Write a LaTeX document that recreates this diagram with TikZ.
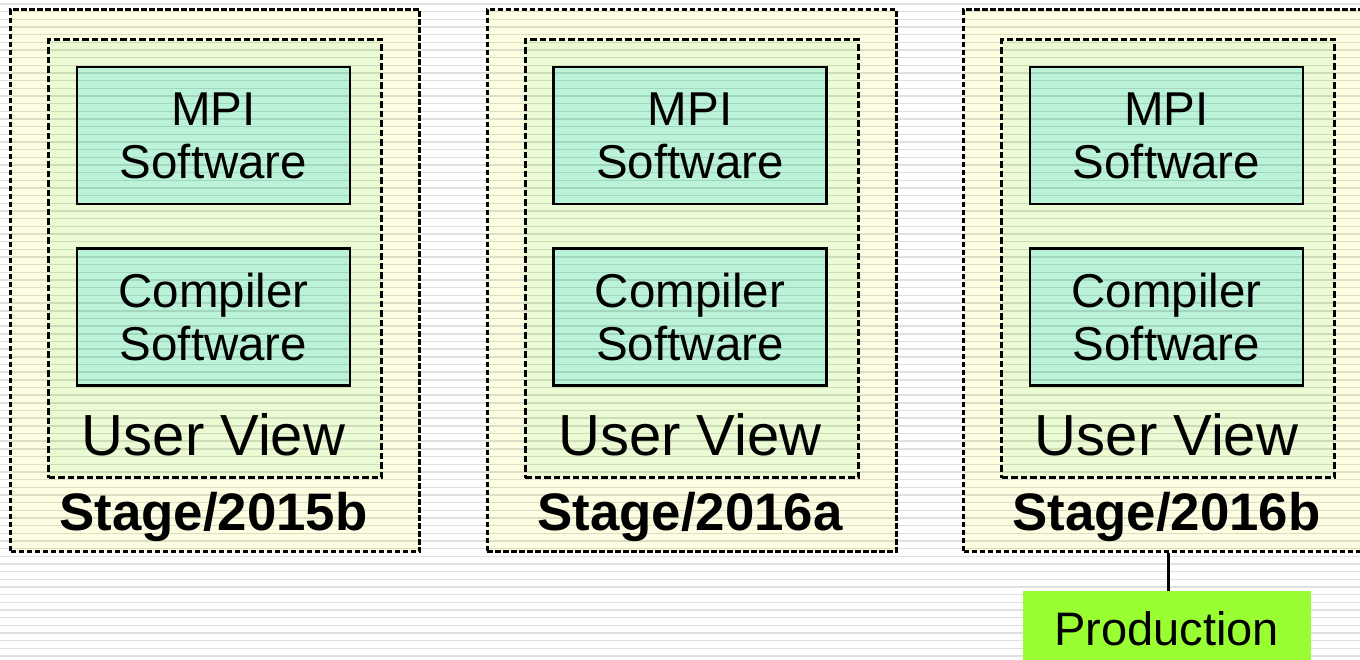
\documentclass[tikz,border=0pt]{standalone}
\usepackage{fontspec}
\setmainfont{Liberation Sans}

\definecolor{stagefill}{HTML}{FDFDE2}
\definecolor{viewfill}{HTML}{EBFBD3}
\definecolor{softfill}{HTML}{BBF3D8}
\definecolor{prodfill}{HTML}{99FF33}

\begin{document}
\begin{tikzpicture}[x=1pt,y=-1pt,
			stage box/.style={draw,line width=3pt,dash pattern=on 5.5pt off 2.5pt,fill=stagefill,minimum width=409pt,minimum height=542pt,inner sep=0pt,anchor=north west},
			view box/.style={draw,line width=3.3pt,dash pattern=on 6.5pt off 3pt,fill=viewfill,minimum width=333pt,minimum height=438pt,inner sep=0pt,anchor=north west},
			soft box/.style={draw,line width=2.6pt,fill=softfill,minimum width=273pt,minimum height=137pt,inner sep=0pt,align=center,font=\fontsize{47.5}{53}\selectfont},
			view label/.style={anchor=base,inner sep=0pt,font=\fontsize{58}{60}\selectfont},
			stage label/.style={anchor=base,inner sep=0pt,font=\fontsize{52.8}{54}\selectfont\bfseries},
			prod box/.style={fill=prodfill,minimum width=288pt,minimum height=76pt,inner sep=0pt,font=\fontsize{47}{50}\selectfont},
			bg line/.style={line width=1.4pt,black,opacity=0.12}
			]
			
			\def \dx {476.5};
			
			\useasboundingbox (0,0) rectangle (1360,659);
			\fill[white] (0,0) rectangle (1360,659);
			
			\foreach \lbl [count=\i from 0] in {2015b,2016a,2016b} {
				\node[stage box] (stage\i) at ({9+\dx*\i},8) {};
				\node[view box] (view\i) at ({47+\dx*\i},38) {};
				\node[soft box] (mpi\i) at ({213.5+\dx*\i},135.5) {MPI\\Software};
				\node[soft box] (comp\i) at ({213.5+\dx*\i},317) {Compiler\\Software};
				\node[view label] (vlabel\i) at ({213.5+\dx*\i},455) {User View};
				\node[stage label] (slabel\i) at ({213.5+\dx*\i},530) {Stage/\lbl};
			}
			
			% scan lines
			\foreach \k in {0,...,85} {
				\draw[bg line] (0,{4+7.67*\k}) -- (1360,{4+7.67*\k});
			}
			
			\node[prod box] (prod) at (1166.5,629) {Production};
			\draw[line width=3pt] (stage2.south) -- (stage2.south |- prod.north);
			
			\end{tikzpicture}
\end{document}
